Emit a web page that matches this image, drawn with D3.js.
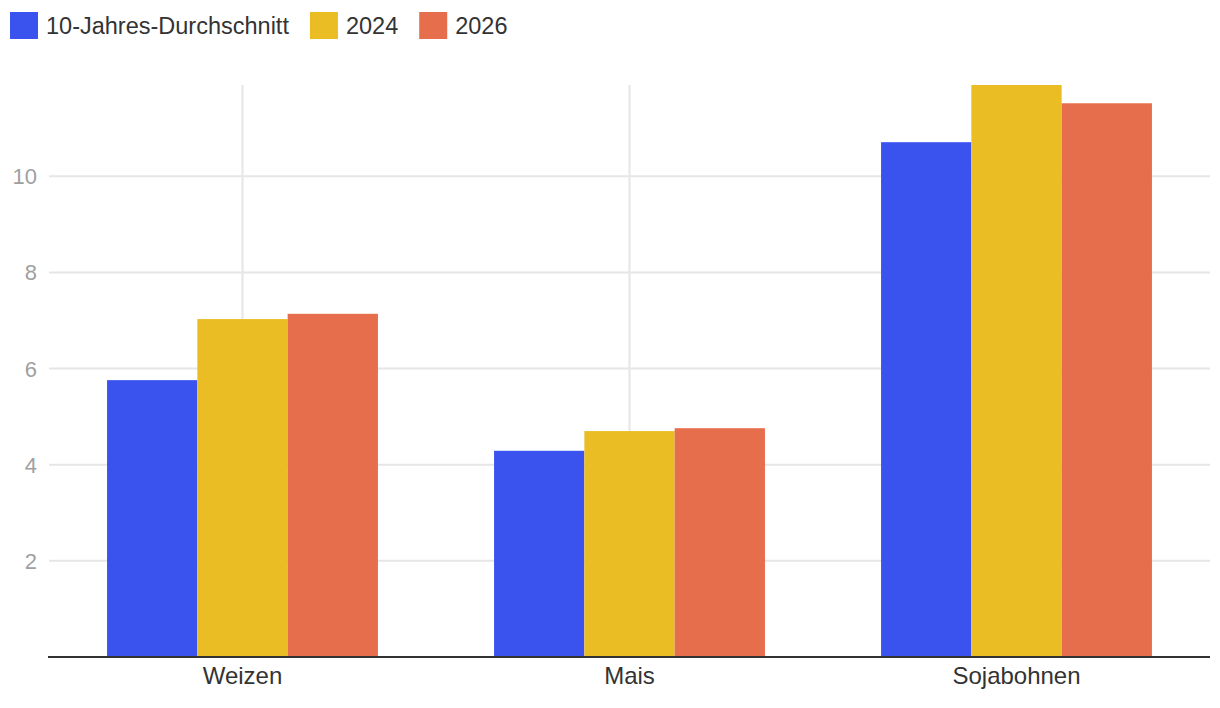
<!DOCTYPE html>
<html>
<head>
<meta charset="utf-8">
<script src="https://cdn.jsdelivr.net/npm/d3@7"></script>
<style>
  html, body { margin: 0; padding: 0; background: #fff; }
  svg { display: block; font-family: "Liberation Sans", Arial, Helvetica, sans-serif; }
</style>
</head>
<body>
<svg id="chart" width="1220" height="708"></svg>
<script>
const categories = ["Weizen", "Mais", "Sojabohnen"];
const seriesNames = ["10-Jahres-Durchschnitt", "2024", "2026"];
const seriesColors = ["#3A53EE", "#EABD24", "#E76E4C"];
const avg10 = [5.76, 4.29, 10.71];
const y2024 = [7.03, 4.70, 11.90];
const y2026 = [7.14, 4.76, 11.52];
const yTicks = [2, 4, 6, 8, 10];

const seriesValues = [avg10, y2024, y2026];
const svg = d3.select("#chart");

const margin = { left: 49, right: 10, top: 85, bottom: 51 };
const W = 1220, H = 708;
const x0 = d3.scaleBand().domain(categories).range([margin.left, W - margin.right]).paddingInner(0.3).paddingOuter(0.15);
const xCenter = d3.scaleBand().domain(categories).range([margin.left, W - margin.right]);
const x1 = d3.scaleBand().domain(seriesNames).range([0, x0.bandwidth()]);
const y = d3.scaleLinear().domain([0, 11.9]).range([H - margin.bottom, margin.top]);

// horizontal gridlines
svg.append("g").selectAll("line").data(yTicks).join("line")
  .attr("x1", margin.left).attr("x2", W - margin.right)
  .attr("y1", d => y(d)).attr("y2", d => y(d))
  .attr("stroke", "#e6e6e6").attr("stroke-width", 2);

// vertical gridlines at category centers
svg.append("g").selectAll("line").data(categories).join("line")
  .attr("x1", d => xCenter(d) + xCenter.bandwidth() / 2)
  .attr("x2", d => xCenter(d) + xCenter.bandwidth() / 2)
  .attr("y1", y(11.9)).attr("y2", y(0))
  .attr("stroke", "#e6e6e6").attr("stroke-width", 2);

// y tick labels
svg.append("g").selectAll("text").data(yTicks).join("text")
  .attr("x", 37).attr("y", d => y(d))
  .attr("dy", "0.36em")
  .attr("text-anchor", "end")
  .attr("fill", "#a0a0a0")
  .attr("font-size", 22)
  .text(d => d);

// bars
const groups = svg.append("g").selectAll("g").data(categories).join("g")
  .attr("transform", d => `translate(${x0(d)},0)`);
groups.selectAll("rect")
  .data((c, i) => seriesNames.map((s, j) => ({ s, v: seriesValues[j][i], color: seriesColors[j] })))
  .join("rect")
  .attr("x", d => x1(d.s))
  .attr("width", x1.bandwidth())
  .attr("y", d => y(d.v))
  .attr("height", d => y(0) - y(d.v))
  .attr("fill", d => d.color);

// baseline
svg.append("line")
  .attr("x1", 48).attr("x2", W - margin.right)
  .attr("y1", y(0)).attr("y2", y(0))
  .attr("stroke", "#333").attr("stroke-width", 2);

// category labels
svg.append("g").selectAll("text").data(categories).join("text")
  .attr("x", d => xCenter(d) + xCenter.bandwidth() / 2)
  .attr("y", 684)
  .attr("text-anchor", "middle")
  .attr("fill", "#333")
  .attr("font-size", 24)
  .text(d => d);

// legend
const legend = svg.append("g");
let lx = 10;
seriesNames.forEach((name, i) => {
  legend.append("rect").attr("x", lx).attr("y", 12).attr("width", 28).attr("height", 27).attr("fill", seriesColors[i]);
  const t = legend.append("text").attr("x", lx + 36).attr("y", 34)
    .attr("fill", "#333").attr("font-size", 23.5).text(name);
  const w = t.node().getComputedTextLength();
  lx = lx + 36 + w + 21;
});
</script>
</body>
</html>
